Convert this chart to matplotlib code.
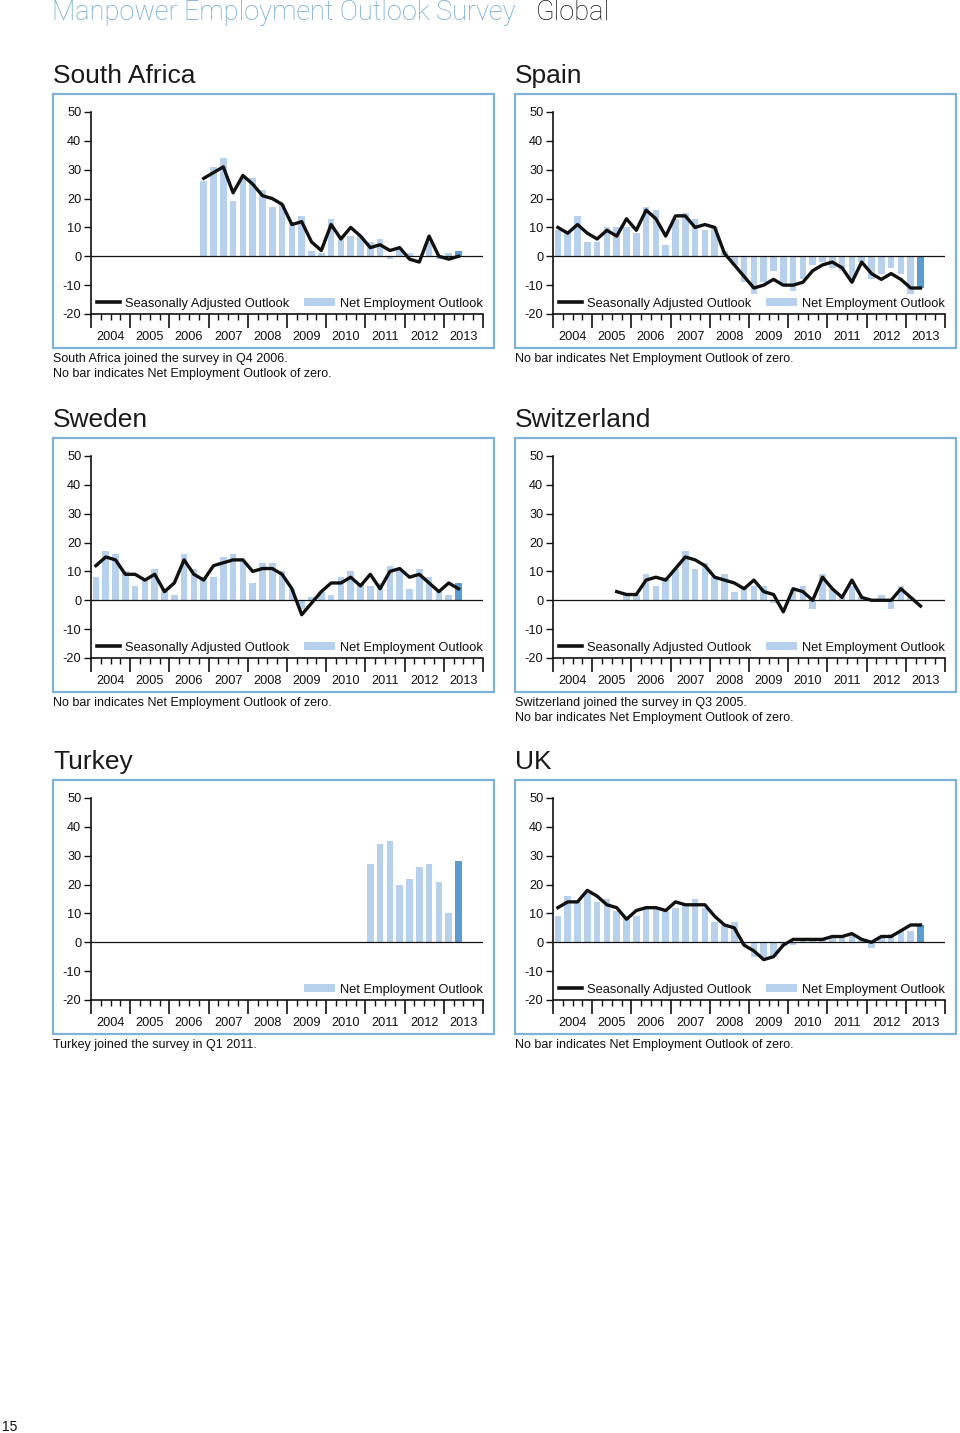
import matplotlib
matplotlib.use("Agg")
import matplotlib.pyplot as plt
from matplotlib.lines import Line2D
from matplotlib.patches import Patch, Rectangle
import numpy as np

W, H = 960, 1433
INK = "#111111"
BAR = "#b7d0eb"
BAR_LAST = "#5b9dd3"
FRAME = "#7db3da"
HEADER = "#6aa6cc"
LIGHT_FONT = ["Roboto", "Liberation Sans", "DejaVu Sans"]

nan = np.nan
YEARS = [str(y) for y in range(2004, 2014)]
N_QUARTERS = 38  # 2004 Q1 .. 2013 Q2

# Net Employment Outlook (bars) and Seasonally Adjusted Outlook (line), quarterly
SA_NEO = [nan] * 11 + [26, 31, 34, 19, 27, 27, 23, 17, 18, 12, 14, 2, 1, 13, 6, 7, 7, 5, 6, -1, 3, 1, 0, 5, -1, 1, 2]
SA_SAO = [nan] * 11 + [27, 29, 31, 22, 28, 25, 21, 20, 18, 11, 12, 5, 2, 11, 6, 10, 7, 3, 4, 2, 3, -1, -2, 7, 0, -1, 0]

ES_NEO = [9, 8, 14, 5, 5, 10, 10, 10, 8, 17, 16, 4, 13, 15, 13, 9, 10, 2, -3, -9,
          -13, -9, -5, -10, -12, -8, -3, -2, -4, -5, -9, -2, -8, -6, -4, -6, -13, -11]
ES_SAO = [10, 8, 11, 8, 6, 9, 7, 13, 9, 16, 13, 7, 14, 14, 10, 11, 10, 1, -3, -7,
          -11, -10, -8, -10, -10, -9, -5, -3, -2, -4, -9, -2, -6, -8, -6, -8, -11, -11]

SE_NEO = [8, 17, 16, 10, 5, 7, 11, 4, 2, 16, 11, 8, 8, 15, 16, 14, 6, 13, 13, 10,
          4, -3, 1, 3, 2, 8, 10, 6, 5, 6, 12, 11, 4, 11, 8, 3, 2, 6]
SE_SAO = [12, 15, 14, 9, 9, 7, 9, 3, 6, 14, 9, 7, 12, 13, 14, 14, 10, 11, 11, 9,
          4, -5, -1, 3, 6, 6, 8, 5, 9, 4, 10, 11, 8, 9, 6, 3, 6, 4]

CH_NEO = [nan] * 6 + [0, 2, 2, 9, 5, 8, 11, 17, 11, 13, 8, 9, 3, 5, 5, 5, -1, 0, 4, 5,
                      -3, 9, 4, 1, 5, 1, 0, 2, -3, 5, 1, 0]
CH_SAO = [nan] * 6 + [3, 2, 2, 7, 8, 7, 11, 15, 14, 12, 8, 7, 6, 4, 7, 3, 2, -4, 4, 3,
                      0, 8, 4, 1, 7, 1, 0, 0, 0, 4, 1, -2]

TR_NEO = [nan] * 28 + [27, 34, 35, 20, 22, 26, 27, 21, 10, 28]
TR_SAO = None

UK_NEO = [9, 16, 14, 17, 14, 15, 11, 9, 9, 12, 12, 11, 12, 13, 15, 12, 7, 6, 7, -1,
          -5, -5, -5, -1, -1, 1, 1, 1, 2, 2, 3, 1, -2, 2, 3, 4, 4, 6]
UK_SAO = [12, 14, 14, 18, 16, 13, 12, 8, 11, 12, 12, 11, 14, 13, 13, 13, 9, 6, 5, -1,
          -3, -6, -5, -1, 1, 1, 1, 1, 2, 2, 3, 1, 0, 2, 2, 4, 6, 6]

NOTE_ZERO = "No bar indicates Net Employment Outlook of zero."
PANELS = [
    ("South Africa", SA_NEO, SA_SAO, ["South Africa joined the survey in Q4 2006.", NOTE_ZERO]),
    ("Spain", ES_NEO, ES_SAO, [NOTE_ZERO]),
    ("Sweden", SE_NEO, SE_SAO, [NOTE_ZERO]),
    ("Switzerland", CH_NEO, CH_SAO, ["Switzerland joined the survey in Q3 2005.", NOTE_ZERO]),
    ("Turkey", TR_NEO, TR_SAO, ["Turkey joined the survey in Q1 2011."]),
    ("UK", UK_NEO, UK_SAO, [NOTE_ZERO]),
]

plt.rcParams.update({
    "font.family": ["Liberation Sans", "DejaVu Sans"],
    "axes.unicode_minus": False,
    "text.color": INK,
    "xtick.color": INK,
    "ytick.color": INK,
})

LEGEND_KW = dict(frameon=False, fontsize=9.3, borderpad=0, borderaxespad=0,
                 handleheight=0.5, handletextpad=0.4)


def fx(px):
    return px / W


def fy(py):
    return 1 - py / H


def draw_panel(fig, index, title, neo, sao, notes):
    dx = 462 * (index % 2)
    dy = [0, 344, 686][index // 2]

    fig.patches.append(Rectangle((fx(53 + dx), fy(348 + dy)), 441 / W, 254 / H,
                                 transform=fig.transFigure, fill=False,
                                 edgecolor=FRAME, linewidth=1.6))
    fig.text(fx(53 + dx), fy(76 + dy), title, fontsize=19, va="center", ha="left",
             color="#1a1a1a")
    for k, line in enumerate(notes):
        fig.text(fx(53 + dx), fy(359 + dy + 15 * k), line, fontsize=9, va="center", ha="left")

    ax = fig.add_axes([fx(91 + dx), fy(314 + dy), 392 / W, 202 / H])
    ax.set_facecolor("none")
    x = np.arange(N_QUARTERS) + 0.5
    neo = np.array(neo, dtype=float)
    colors = [BAR] * (N_QUARTERS - 1) + [BAR_LAST]
    ok = ~np.isnan(neo)
    ax.bar(x[ok], neo[ok], width=0.68, color=np.array(colors)[ok], zorder=1)
    ax.axhline(0, color=INK, linewidth=0.9, zorder=2)

    ax.set_xlim(0, 40)
    ax.set_ylim(-20, 50)
    ax.set_yticks(range(-20, 51, 10))
    ax.tick_params(axis="y", length=5, width=1, pad=2, labelsize=9.2)
    ax.set_xticks(range(0, 41, 4), [""] * 11)
    minor = [q for q in range(41) if q % 4]
    ax.set_xticks(minor, [YEARS[q // 4] if q % 4 == 2 else "" for q in minor], minor=True)
    ax.tick_params(axis="x", which="major", length=10, width=1.2)
    ax.tick_params(axis="x", which="minor", length=4.5, width=1, pad=8, labelsize=9.2)
    for side in ("top", "right"):
        ax.spines[side].set_visible(False)
    for side in ("left", "bottom"):
        ax.spines[side].set_linewidth(1.2)
        ax.spines[side].set_color(INK)

    # two legend entries with different key lengths, as in the original layout
    bar_leg = ax.legend([Patch(facecolor=BAR, edgecolor="none")], ["Net Employment Outlook"],
                        loc="lower right", bbox_to_anchor=(1.0, 0.022),
                        handlelength=2.4, **LEGEND_KW)
    if sao is not None:
        ax.plot(x, np.array(sao, dtype=float), color=INK, linewidth=2.4, zorder=3)
        ax.add_artist(bar_leg)
        ax.legend([Line2D([], [], color=INK, linewidth=2.6)], ["Seasonally Adjusted Outlook"],
                  loc="lower left", bbox_to_anchor=(6 / 392, 0.022),
                  handlelength=1.8, **LEGEND_KW)


fig = plt.figure(figsize=(W / 100, H / 100), dpi=100)
fig.text(fx(52), fy(13), "Manpower Employment Outlook Survey", fontsize=19.5,
         color=HEADER, va="center", ha="left", family=LIGHT_FONT, fontweight="light")
fig.text(fx(536), fy(13), "Global", fontsize=19.5, color=INK, va="center", ha="left",
         family=LIGHT_FONT, fontweight="light")
for i, (title, neo, sao, notes) in enumerate(PANELS):
    draw_panel(fig, i, title, neo, sao, notes)
fig.text(fx(2), fy(1427), "15", fontsize=10, va="center", ha="left")

fig.savefig("out.png", dpi=100, facecolor="white")
